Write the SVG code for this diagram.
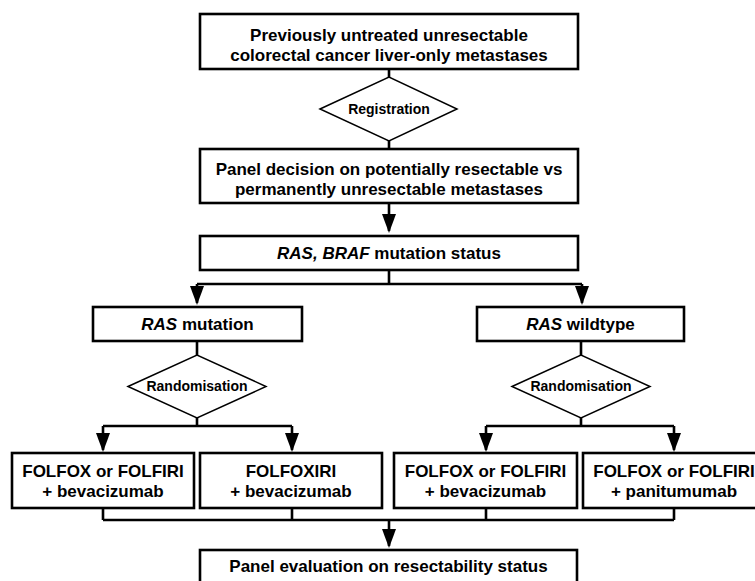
<svg xmlns="http://www.w3.org/2000/svg" width="755" height="581" viewBox="0 0 755 581">
<defs>
<style>
.box{fill:#fff;stroke:#000;stroke-width:2.6}
.dia{fill:#fff;stroke:#000;stroke-width:1.5}
.t{font-family:"Liberation Sans",Arial,Helvetica,sans-serif;font-weight:bold;font-size:17px;fill:#000;text-anchor:middle}
.s{font-family:"Liberation Sans",Arial,Helvetica,sans-serif;font-weight:bold;font-size:14px;fill:#000;text-anchor:middle}
.c{fill:none;stroke:#000;stroke-width:2.6}
.a{fill:none;stroke:#000;stroke-width:2.6;marker-end:url(#ah)}
</style>
<marker id="ah" markerUnits="userSpaceOnUse" markerWidth="19" markerHeight="14" refX="17" refY="7" orient="auto">
<path d="M0,0 L19,7 L0,14 z" fill="#000"/>
</marker>
</defs>
<rect width="755" height="581" fill="#fff"/>
<g id="connectors">
<path class="c" d="M389,69 V77"/>
<path class="c" d="M389,141 V149"/>
<path class="a" d="M389,203 V231"/>
<path class="c" d="M389,270 V284 M197,284 H582"/>
<path class="a" d="M197,284 V303"/>
<path class="a" d="M582,284 V303"/>
<path class="c" d="M197,341 V355 M197,418 V426 M103,426 H292"/>
<path class="a" d="M103,426 V450"/>
<path class="a" d="M292,426 V450"/>
<path class="c" d="M581,341 V355 M581,418 V426 M486,426 H674"/>
<path class="a" d="M486,426 V450"/>
<path class="a" d="M674,426 V450"/>
<path class="c" d="M103,508 V520 M292,508 V520 M486,508 V520 M674,508 V520 M103,520 H674"/>
<path class="a" d="M389,520 V546"/>
</g>
<g id="n1">
<rect class="box" x="200" y="14" width="378" height="55"/>
<text class="t" x="389" y="41">Previously untreated unresectable</text>
<text class="t" x="389" y="61">colorectal cancer liver-only metastases</text>
</g>
<g id="d1">
<polygon class="dia" points="320,109 389,77 457,109 389,141"/>
<text class="s" x="389" y="114">Registration</text>
</g>
<g id="n2">
<rect class="box" x="200" y="149" width="378" height="54"/>
<text class="t" x="389" y="175">Panel decision on potentially resectable vs</text>
<text class="t" x="389" y="195">permanently unresectable metastases</text>
</g>
<g id="n3">
<rect class="box" x="200" y="236" width="378" height="34"/>
<text class="t" x="389" y="259"><tspan font-style="italic">RAS, BRAF</tspan> mutation status</text>
</g>
<g id="n4">
<rect class="box" x="93" y="307" width="209" height="34"/>
<text class="t" x="197.5" y="330"><tspan font-style="italic">RAS</tspan> mutation</text>
</g>
<g id="d2">
<polygon class="dia" points="128,386.5 197,355 266,386.5 197,418"/>
<text class="s" x="197" y="391">Randomisation</text>
</g>
<g id="n5">
<rect class="box" x="477" y="307" width="207" height="34"/>
<text class="t" x="580.5" y="330"><tspan font-style="italic">RAS</tspan> wildtype</text>
</g>
<g id="d3">
<polygon class="dia" points="512,386.5 581,355 650,386.5 581,418"/>
<text class="s" x="581" y="391">Randomisation</text>
</g>
<g id="n6">
<rect class="box" x="12" y="453" width="182" height="55"/>
<text class="t" x="103" y="477">FOLFOX or FOLFIRI</text>
<text class="t" x="103" y="497">+ bevacizumab</text>
</g>
<g id="n7">
<rect class="box" x="200" y="453" width="182" height="55"/>
<text class="t" x="291" y="477">FOLFOXIRI</text>
<text class="t" x="291" y="497">+ bevacizumab</text>
</g>
<g id="n8">
<rect class="box" x="394" y="453" width="183" height="55"/>
<text class="t" x="485.5" y="477">FOLFOX or FOLFIRI</text>
<text class="t" x="485.5" y="497">+ bevacizumab</text>
</g>
<g id="n9">
<rect class="box" x="583" y="453" width="182" height="55"/>
<text class="t" x="674" y="477">FOLFOX or FOLFIRI</text>
<text class="t" x="674" y="497">+ panitumumab</text>
</g>
<g id="n10">
<rect class="box" x="200" y="550" width="377" height="50"/>
<text class="t" x="388.5" y="572">Panel evaluation on resectability status</text>
</g>
</svg>
